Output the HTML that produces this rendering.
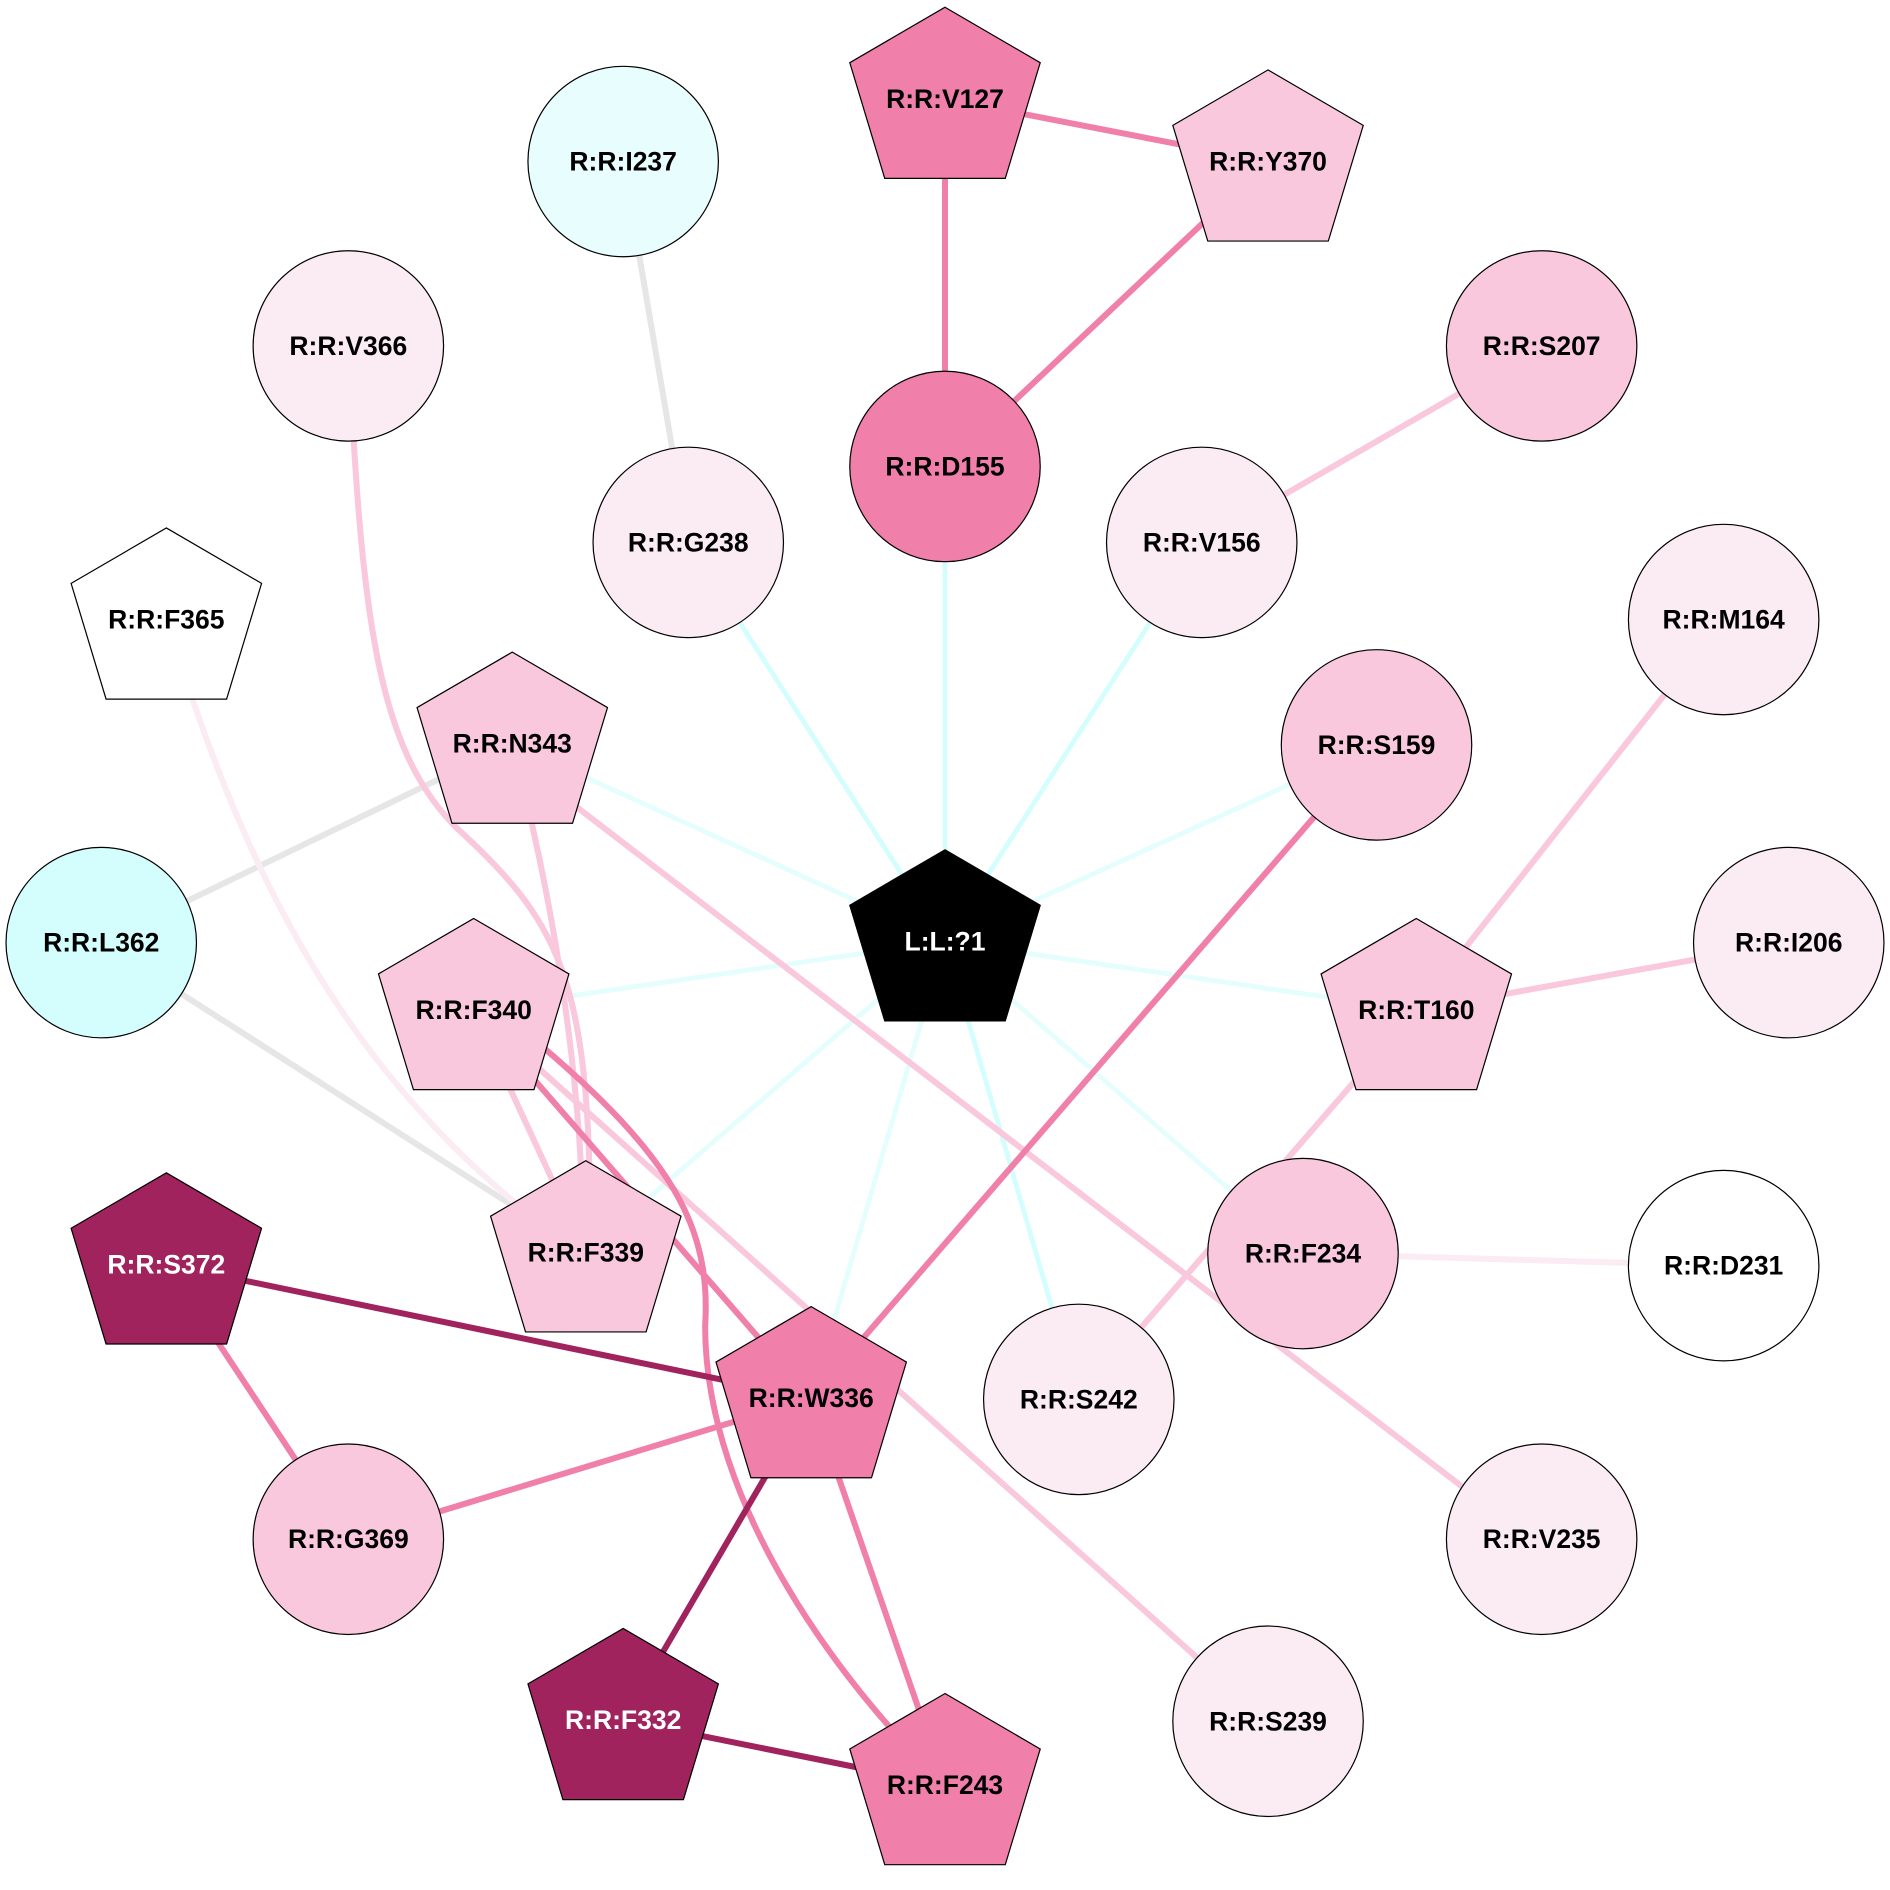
<!DOCTYPE html>
<html><head><meta charset="utf-8"><style>
html,body{margin:0;padding:0;background:#fff;width:1890px;height:1890px;overflow:hidden}
svg{display:block}
text{font-family:"Liberation Sans",Arial,sans-serif;font-weight:bold;font-size:22px;text-anchor:middle;dominant-baseline:central}
</style></head><body>
<svg width="1890" height="1890" viewBox="0 0 1568 1568" xmlns="http://www.w3.org/2000/svg">
<defs>
<polygon id="pg" points="0,-76 79,-30 50,66 -50,66 -79,-30" stroke="#000" stroke-width="1"/>
</defs>
<g fill="none" stroke-linecap="butt">
<g stroke="#d4fdfd" stroke-width="4">
<line x1="784" y1="781" x2="784" y2="387"/>
<line x1="784" y1="781" x2="571" y2="450"/>
<line x1="784" y1="781" x2="997" y2="450"/>
<line x1="784" y1="781" x2="895" y2="1161"/>
</g>
<g stroke="#e4fdfd" stroke-width="4">
<line x1="784" y1="781" x2="1142" y2="618"/>
<line x1="784" y1="781" x2="425" y2="617"/>
<line x1="784" y1="781" x2="393" y2="838"/>
<line x1="784" y1="781" x2="1175" y2="838"/>
<line x1="784" y1="781" x2="486" y2="1039"/>
<line x1="784" y1="781" x2="673" y2="1160"/>
<line x1="784" y1="781" x2="1081" y2="1040"/>
</g>
<g stroke="#e6e6e6" stroke-width="5">
<line x1="517" y1="134" x2="571" y2="450"/>
<line x1="425" y1="617" x2="84" y2="782"/>
<line x1="84" y1="782" x2="486" y2="1039"/>
</g>
<g stroke="#fbebf3" stroke-width="5">
<line x1="1081" y1="1040" x2="1430" y2="1050"/>
<path d="M138,514 C190,680 260,860 430,1000"/>
</g>
<g stroke="#f9c8dc" stroke-width="5">
<line x1="1279" y1="287" x2="997" y2="450"/>
<line x1="1430" y1="514" x2="1175" y2="838"/>
<line x1="1484" y1="782" x2="1175" y2="838"/>
<line x1="1175" y1="838" x2="895" y2="1161"/>
<line x1="440" y1="640" x2="1279" y2="1284"/>
<line x1="393" y1="838" x2="486" y2="1039"/>
<line x1="393" y1="838" x2="1052" y2="1428"/>
<path d="M289,287 C300,500 310,620 380,688 C470,770 490,820 490,1039"/>
<path d="M425,617 C460,750 484,900 484,1039"/>
</g>
<g stroke="#f07faa" stroke-width="5">
<line x1="784" y1="82" x2="1052" y2="134"/>
<line x1="784" y1="82" x2="784" y2="387"/>
<line x1="1052" y1="134" x2="784" y2="387"/>
<line x1="1142" y1="618" x2="673" y2="1160"/>
<line x1="393" y1="838" x2="673" y2="1160"/>
<path d="M440,860 C560,960 590,1020 585,1100 C585,1250 700,1400 784,1481"/>
<line x1="138" y1="1049" x2="289" y2="1277"/>
<line x1="289" y1="1277" x2="673" y2="1160"/>
<line x1="673" y1="1160" x2="784" y2="1481"/>
</g>
<g stroke="#a0235e" stroke-width="5">
<line x1="138" y1="1049" x2="673" y2="1160"/>
<line x1="673" y1="1160" x2="517" y2="1427"/>
<line x1="517" y1="1427" x2="784" y2="1481"/>
</g>
</g>
<g stroke="#000" stroke-width="1">
<circle cx="517" cy="134" r="79" fill="#e8fdfd"/>
<circle cx="289" cy="287" r="79" fill="#fbebf3"/>
<circle cx="1279" cy="287" r="79" fill="#f9c8dc"/>
<circle cx="784" cy="387" r="79" fill="#f07faa"/>
<circle cx="571" cy="450" r="79" fill="#fbebf3"/>
<circle cx="997" cy="450" r="79" fill="#fbebf3"/>
<circle cx="1430" cy="514" r="79" fill="#fbebf3"/>
<circle cx="1142" cy="618" r="79" fill="#f9c8dc"/>
<circle cx="84" cy="782" r="79" fill="#d4fdfd"/>
<circle cx="1484" cy="782" r="79" fill="#fbebf3"/>
<circle cx="1081" cy="1040" r="79" fill="#f9c8dc"/>
<circle cx="1430" cy="1050" r="79" fill="#fff"/>
<circle cx="895" cy="1161" r="79" fill="#fbebf3"/>
<circle cx="289" cy="1277" r="79" fill="#f9c8dc"/>
<circle cx="1279" cy="1277" r="79" fill="#fbebf3"/>
<circle cx="1052" cy="1428" r="79" fill="#fbebf3"/>
</g>
<use href="#pg" x="784" y="82" fill="#f07faa"/>
<use href="#pg" x="1052" y="134" fill="#f9c8dc"/>
<use href="#pg" x="138" y="514" fill="#fff"/>
<use href="#pg" x="425" y="617" fill="#f9c8dc"/>
<use href="#pg" x="784" y="781" fill="#000"/>
<use href="#pg" x="393" y="838" fill="#f9c8dc"/>
<use href="#pg" x="1175" y="838" fill="#f9c8dc"/>
<use href="#pg" x="138" y="1049" fill="#a0235e"/>
<use href="#pg" x="486" y="1039" fill="#f9c8dc"/>
<use href="#pg" x="673" y="1160" fill="#f07faa"/>
<use href="#pg" x="517" y="1427" fill="#a0235e"/>
<use href="#pg" x="784" y="1481" fill="#f07faa"/>
<g fill="#000">
<text x="517" y="134">R:R:I237</text>
<text x="289" y="287">R:R:V366</text>
<text x="1279" y="287">R:R:S207</text>
<text x="784" y="387">R:R:D155</text>
<text x="571" y="450">R:R:G238</text>
<text x="997" y="450">R:R:V156</text>
<text x="1430" y="514">R:R:M164</text>
<text x="1142" y="618">R:R:S159</text>
<text x="84" y="782">R:R:L362</text>
<text x="1484" y="782">R:R:I206</text>
<text x="1081" y="1040">R:R:F234</text>
<text x="1430" y="1050">R:R:D231</text>
<text x="895" y="1161">R:R:S242</text>
<text x="289" y="1277">R:R:G369</text>
<text x="1279" y="1277">R:R:V235</text>
<text x="1052" y="1428">R:R:S239</text>
<text x="784" y="82">R:R:V127</text>
<text x="1052" y="134">R:R:Y370</text>
<text x="138" y="514">R:R:F365</text>
<text x="425" y="617">R:R:N343</text>
<text x="393" y="838">R:R:F340</text>
<text x="1175" y="838">R:R:T160</text>
<text x="486" y="1039">R:R:F339</text>
<text x="673" y="1160">R:R:W336</text>
<text x="784" y="1481">R:R:F243</text>
</g>
<g fill="#fff">
<text x="784" y="781">L:L:?1</text>
<text x="138" y="1049">R:R:S372</text>
<text x="517" y="1427">R:R:F332</text>
</g>
</svg>
</body></html>
